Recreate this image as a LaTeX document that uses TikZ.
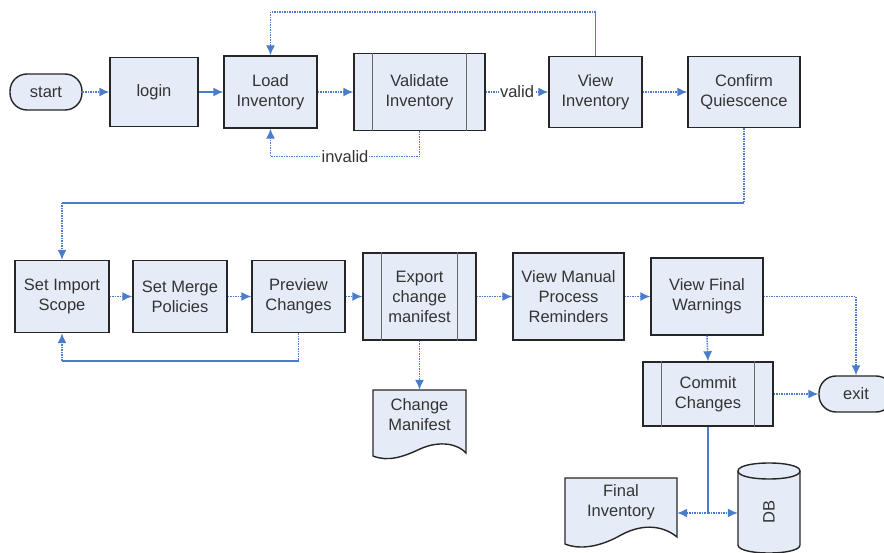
\documentclass[tikz,border=0pt]{standalone}
\usepackage{fontspec}
\usepackage{graphicx}
\setmainfont{Liberation Sans}
\usetikzlibrary{shapes.geometric,arrows.meta}
\definecolor{boxfill}{HTML}{E6ECF7}
\definecolor{boxline}{HTML}{262626}
\definecolor{conn}{HTML}{4A7CC9}
\definecolor{txt}{HTML}{333333}
\begin{document}
\begin{tikzpicture}[x=1pt,y=-1pt,
  every node/.style={font=\fontsize{16.5}{20}\selectfont, text=txt},
  proc/.style={draw=boxline, fill=boxfill, line width=1.4pt, align=center, inner sep=0pt},
  term/.style={draw=boxline, fill=boxfill, line width=1.4pt, rounded corners=17pt, minimum height=36pt, inner sep=0pt},
  docshape/.style={draw=boxline, fill=boxfill, line width=1.4pt},
  doctext/.style={align=center, inner sep=0pt},
  sub/.style={draw=boxline!70, line width=1.4pt},
  flow/.style={draw=conn, line width=1.5pt, densely dotted, -{Latex[length=10pt,width=9pt]}},
  flowsolid/.style={draw=conn, line width=1.5pt, -{Latex[length=10pt,width=9pt]}},
  dotline/.style={draw=conn, line width=1.5pt, densely dotted},
  solidline/.style={draw=conn, line width=1.4pt},
  lbl/.style={fill=white, inner sep=1pt},
]
\useasboundingbox (0,0) rectangle (884,553);

% ---- row 1
\node[term, minimum width=72pt] (start) at (46,92) {start};
\node[proc, minimum width=88pt, minimum height=69pt] (login) at (154,92) {login};
\node[proc, minimum width=93pt, minimum height=72pt] (load) at (270.5,92) {Load\\Inventory};
\node[proc, minimum width=131pt, minimum height=77pt] (validate) at (419.5,92) {Validate\\Inventory};
\draw[sub] ([xshift=19pt]validate.north west) -- ([xshift=19pt]validate.south west);
\draw[sub] ([xshift=-19pt]validate.north east) -- ([xshift=-19pt]validate.south east);
\node[proc, minimum width=93pt, minimum height=71pt] (view) at (595.5,92) {View\\Inventory};
\node[proc, minimum width=112pt, minimum height=71pt] (confirm) at (744,92) {Confirm\\Quiescence};

% ---- row 2
\node[proc, minimum width=94pt, minimum height=72pt] (scope) at (62,296.5) {Set Import\\Scope};
\node[proc, minimum width=94pt, minimum height=72pt] (merge) at (180,296.5) {Set Merge\\Policies};
\node[proc, minimum width=93pt, minimum height=72pt] (preview) at (298.5,296.5) {Preview\\Changes};
\node[proc, minimum width=113pt, minimum height=87pt] (export) at (419.5,296.5) {Export\\change\\manifest};
\draw[sub] ([xshift=19pt]export.north west) -- ([xshift=19pt]export.south west);
\draw[sub] ([xshift=-19pt]export.north east) -- ([xshift=-19pt]export.south east);
\node[proc, minimum width=111pt, minimum height=87pt] (manual) at (568.5,296.5) {View Manual\\Process\\Reminders};
\node[proc, minimum width=112pt, minimum height=77pt] (warn) at (707,296.5) {View Final\\Warnings};

% ---- lower part
\node[proc, minimum width=130pt, minimum height=64pt] (commit) at (708,394) {Commit\\Changes};
\draw[sub] ([xshift=19pt]commit.north west) -- ([xshift=19pt]commit.south west);
\draw[sub] ([xshift=-19pt]commit.north east) -- ([xshift=-19pt]commit.south east);
\node[term, minimum width=74pt] (exit) at (856,394) {exit};

\draw[docshape] (373,390) -- (466,390) -- (466,453) .. controls (458,444) and (440,440) .. (420,449)
   .. controls (403,457) and (388,462) .. (373,456) -- cycle;
\node[doctext, minimum width=93pt, minimum height=50pt] (cman) at (419.5,415) {Change\\Manifest};

\draw[docshape] (565,478) -- (677,478) -- (677,537) .. controls (665,527) and (645,522) .. (621,535)
   .. controls (600,547) and (580,550) .. (565,544) -- cycle;
\node[doctext, minimum width=112pt, minimum height=50pt] (finv) at (621,502) {Final\\Inventory};

% database cylinder
\draw[docshape] (738,471) -- (738,545) .. controls (738,555.7) and (800,555.7) .. (800,545)
   -- (800,471) .. controls (800,460.3) and (738,460.3) .. (738,471) -- cycle;
\draw[docshape, fill=none] (738,471) .. controls (738,481.7) and (800,481.7) .. (800,471);
\node[doctext, minimum width=62pt, minimum height=74pt] (db) at (769,512) {\rotatebox{90}{DB}};

% ---- connectors row 1
\draw[flow] (start.east) -- (login.west);
\draw[flowsolid] (login.east) -- (load.west);
\draw[flow] (load.east) -- (validate.west);
\draw[flow] (validate.east) -- node[lbl]{valid} (view.west);
\draw[flow] (view.east) -- (confirm.west);

\coordinate (t1) at (595.5,12);
\coordinate (t2) at (270.5,12);
\draw[solidline] (view.north) -- (t1);
\draw[dotline] (t1) -- (t2);
\draw[flow] (t2) -- (load.north);

\draw[flow] (validate.south) -- ++(0,25.5) -| node[pos=0.25, lbl]{invalid} (load.south);

\coordinate (c1) at (744,203);
\coordinate (c2) at (62,203);
\draw[dotline] (confirm.south) -- (c1);
\draw[solidline] (c1) -- (c2);
\draw[flow] (c2) -- (scope.north);

% ---- connectors row 2
\draw[flow] (scope.east) -- (merge.west);
\draw[flow] (merge.east) -- (preview.west);
\draw[flow] (preview.east) -- (export.west);
\draw[flow] (export.east) -- (manual.west);
\draw[flow] (manual.east) -- (warn.west);

\coordinate (p1) at (298.5,361);
\coordinate (p2) at (62,361);
\draw[dotline] (preview.south) -- (p1);
\draw[solidline] (p1) -- (p2);
\draw[flow] (p2) -- (scope.south);

\draw[flow] (export.south) -- (cman.north);
\draw[flow] (warn.south) -- (commit.north);
\draw[flow] (warn.east) -| (exit.north);
\draw[flow] (commit.east) -- (exit.west);

\coordinate (j) at (708,513);
\draw[solidline] (commit.south) -- (j);
\draw[flow] (j) -- (j -| finv.east);
\draw[flow] (j) -- (j -| db.west);
\end{tikzpicture}
\end{document}
